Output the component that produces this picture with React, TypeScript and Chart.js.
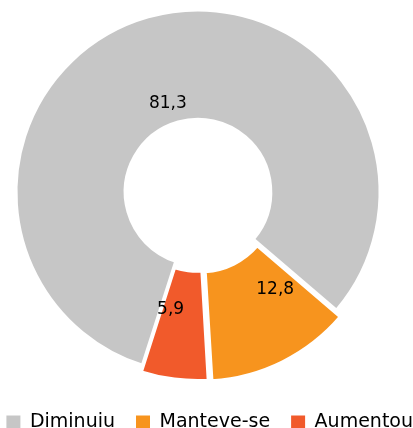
import { useEffect, useRef } from 'react';
import { Chart, registerables } from 'chart.js';

Chart.register(...registerables);

const categories = ['Diminuiu', 'Manteve-se', 'Aumentou'];
const values = [81.3, 12.8, 5.9];
const valueLabels = ['81,3', '12,8', '5,9'];
const colors = ['#C6C6C6', '#F7941E', '#F15A2B'];
// Chart.js 4 draws an arc offset at one quarter of this value
const sliceOffsets = [0, 24, 16];
const labelAngleFrac = [0.49, 0.23, 0.79];
const labelRadiusFrac = [0.19, 0.42, 0.4];

export default function App() {
  const ref = useRef<HTMLCanvasElement>(null);

  useEffect(() => {
    const canvas = ref.current as HTMLCanvasElement;
    const labelPlugin = {
      id: 'sliceLabels',
      afterDatasetsDraw(chart: any) {
        const ctx = chart.ctx;
        const meta = chart.getDatasetMeta(0);
        ctx.save();
        ctx.font = "17px 'DejaVu Sans'";
        ctx.fillStyle = '#000';
        ctx.textAlign = 'center';
        ctx.textBaseline = 'middle';
        meta.data.forEach((el: any, i: number) => {
          const p = el.getProps(['x', 'y', 'startAngle', 'endAngle', 'innerRadius', 'outerRadius'], true);
          const off = (el.options.offset || 0) / 4;
          const half = (p.startAngle + p.endAngle) / 2;
          const a = p.startAngle + (p.endAngle - p.startAngle) * labelAngleFrac[i];
          const r = p.innerRadius + (p.outerRadius - p.innerRadius) * labelRadiusFrac[i];
          const px = p.x + Math.cos(half) * off + Math.cos(a) * r;
          const py = p.y + Math.sin(half) * off + Math.sin(a) * r;
          ctx.fillText(valueLabels[i], px, py);
        });
        ctx.restore();
      },
    };

    const chart = new Chart(canvas, {
      type: 'doughnut',
      data: {
        labels: categories,
        datasets: [
          {
            data: values,
            backgroundColor: colors,
            borderColor: '#ffffff',
            borderWidth: 3,
            offset: sliceOffsets,
            hoverOffset: 0,
          } as any,
        ],
      },
      options: {
        responsive: false,
        animation: false,
        rotation: 197.8,
        radius: 182,
        cutout: '40%',
        layout: { padding: 0 },
        plugins: {
          tooltip: { enabled: false },
          legend: {
            position: 'bottom',
            align: 'end',
            labels: {
              boxWidth: 14,
              boxHeight: 14,
              padding: 21,
              color: '#000',
              font: { family: "'DejaVu Sans', sans-serif", size: 19 },
              generateLabels: (c: any) => {
                const items = (Chart as any).overrides.doughnut.plugins.legend.labels.generateLabels(c);
                return items.map((it: any) => ({ ...it, lineWidth: 0, strokeStyle: 'rgba(0,0,0,0)' }));
              },
            },
          },
        },
      } as any,
      plugins: [labelPlugin],
    });
    return () => chart.destroy();
  }, []);

  return (
    <div style={{ position: 'fixed', left: 0, top: 0, width: 413, height: 428, overflow: 'hidden', background: '#fff' }}>
      <canvas
        ref={ref}
        width={472}
        height={450}
        style={{ position: 'absolute', left: -38, top: -8, width: 472, height: 450 }}
      />
    </div>
  );
}
